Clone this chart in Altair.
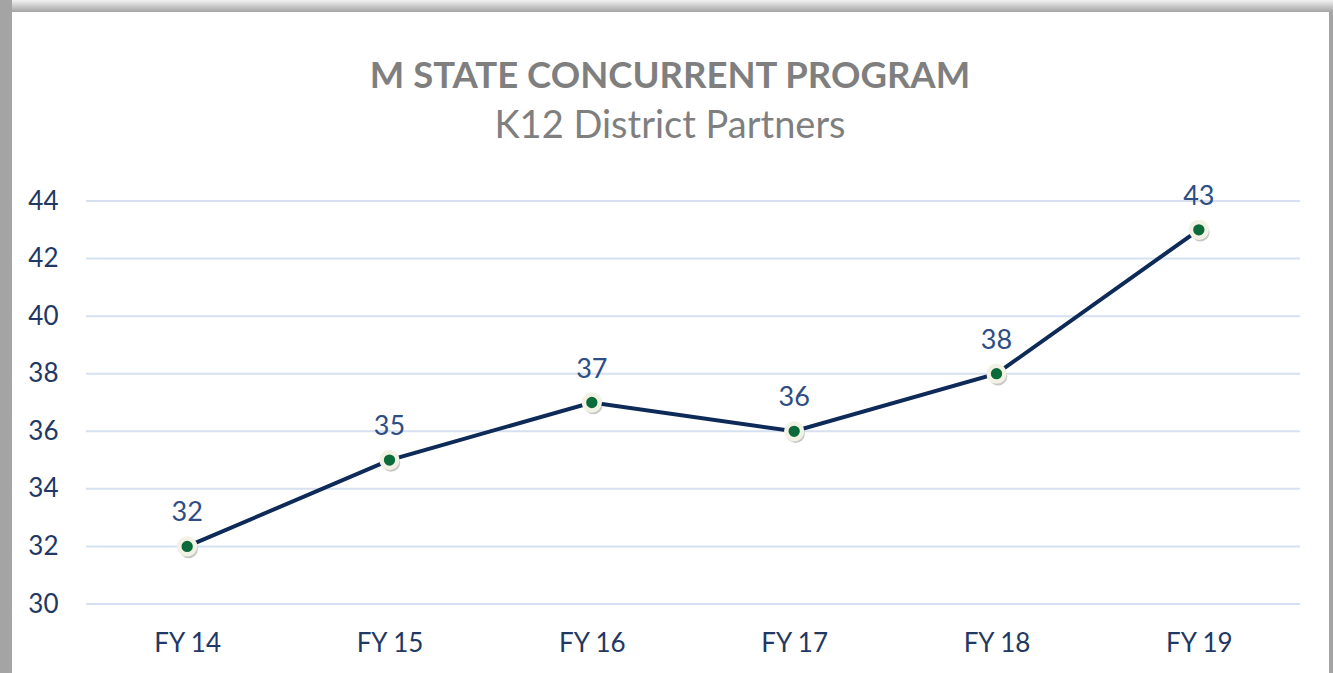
import altair as alt
import pandas as pd

years = ["FY 14", "FY 15", "FY 16", "FY 17", "FY 18", "FY 19"]
partners = [32, 35, 37, 36, 38, 43]
y_ticks = [30, 32, 34, 36, 38, 40, 42, 44]

W, H = 1214, 403
PAD = {"left": 86, "top": 201, "right": 1333 - 86 - W, "bottom": 673 - 201 - H}
FONT = "Lato"
NAVY = "#1f3864"

df = pd.DataFrame({"year": years, "value": partners})
grid_df = pd.DataFrame({"value": y_ticks})
one = pd.DataFrame({"a": [0]})

yscale = alt.Scale(domain=[30, 44], nice=False, zero=False)
yaxis = alt.Axis(title=None, values=y_ticks, domain=False, ticks=False,
                 grid=False, labelFont=FONT, labelFontSize=26,
                 labelColor=NAVY, labelPadding=28, zindex=2)
xenc = alt.X("year:N", sort=years, scale=alt.Scale(type="point", padding=0.5),
             axis=alt.Axis(title=None, labelAngle=0, domain=False, ticks=False,
                           labelFont=FONT, labelFontSize=26, labelColor=NAVY,
                           labelPadding=26, grid=False, zindex=2))
yenc = alt.Y("value:Q", scale=yscale, axis=yaxis)

# frame decoration
frame_white = alt.Chart(one).mark_rect(color="white").encode(
    x=alt.value(12 - PAD["left"]), x2=alt.value(1329 - PAD["left"]),
    y=alt.value(12 - PAD["top"]), y2=alt.value(673 - PAD["top"]))
frame_top = alt.Chart(one).mark_rect(
    color=alt.Gradient(gradient="linear",
                       stops=[alt.GradientStop(color="#f2f2f2", offset=0),
                              alt.GradientStop(color="#a4a4a4", offset=1)],
                       x1=0, x2=0, y1=0, y2=1)).encode(
    x=alt.value(12 - PAD["left"]), x2=alt.value(1333 - PAD["left"]),
    y=alt.value(-PAD["top"]), y2=alt.value(12 - PAD["top"]))

grid = alt.Chart(grid_df).mark_rule(color="#d5e1f0", strokeWidth=2).encode(
    y=yenc, x=alt.value(0), x2=alt.value(W))

line = alt.Chart(df).mark_line(color="#0e2a58", strokeWidth=4).encode(x=xenc, y=yenc)

shadow = alt.Chart(df).mark_point(filled=True, color="#000000", opacity=0.22, size=340).encode(
    x=alt.X("year:N", sort=years), y=alt.Y("value:Q"),
    xOffset=alt.value(1.5), yOffset=alt.value(2.5))

points = alt.Chart(df).mark_point(filled=True, fill="#0a6b3a", stroke="#f1f1e4",
                                  strokeWidth=4.5, opacity=1, size=250).encode(
    x=alt.X("year:N", sort=years), y=alt.Y("value:Q"))

labels = alt.Chart(df).mark_text(font=FONT, fontSize=27, color="#2e4d84",
                                 baseline="alphabetic", dy=-25).encode(
    x=alt.X("year:N", sort=years), y=alt.Y("value:Q"), text="value:Q")

chart = alt.layer(frame_top, frame_white, grid, line, shadow, points, labels).properties(
    width=W, height=H, padding=PAD, autosize="none",
    background="#a4a4a4",
    title=alt.TitleParams(
        text="M STATE CONCURRENT PROGRAM", subtitle="K12 District Partners",
        anchor="middle", dx=-23, font=FONT, fontSize=36.5, fontWeight="bold",
        color="#7f7f7f", subtitleFont=FONT, subtitleFontSize=38,
        subtitleColor="#7f7f7f", subtitlePadding=13, offset=-146)
).configure_view(stroke=None)

chart.save("out.html", embed_options={"renderer": "svg", "actions": False})
